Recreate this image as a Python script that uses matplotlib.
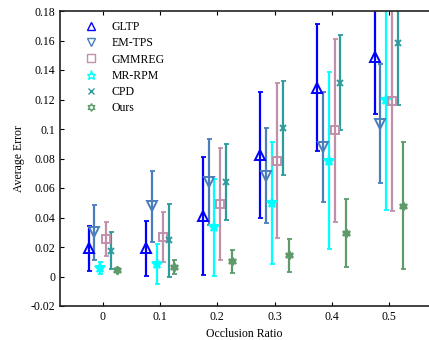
import matplotlib
matplotlib.use("Agg")
import matplotlib.pyplot as plt
from matplotlib.lines import Line2D
import numpy as np

plt.rcParams['font.family'] = ['Liberation Serif', 'DejaVu Serif']
plt.rcParams['mathtext.fontset'] = 'stix'

ratios = [0, 0.1, 0.2, 0.3, 0.4, 0.5]
tick_labels = ['0', '0.1', '0.2', '0.3', '0.4', '0.5']

gltp_mean = [0.019, 0.019, 0.041, 0.0825, 0.128, 0.149]
gltp_err = [0.0155, 0.0187, 0.040, 0.0425, 0.043, 0.039]
emtps_mean = [0.030, 0.0475, 0.064, 0.0684, 0.0878, 0.1035]
emtps_err = [0.0187, 0.024, 0.029, 0.032, 0.0374, 0.0403]
gmmreg_mean = [0.0255, 0.0268, 0.049, 0.0785, 0.099, 0.119]
gmmreg_err = [0.0115, 0.017, 0.038, 0.0525, 0.062, 0.0745]
mrrpm_mean = [0.0058, 0.0085, 0.0333, 0.0499, 0.0784, 0.1198]
mrrpm_err = [0.004, 0.0135, 0.033, 0.0414, 0.060, 0.075]
cpd_mean = [0.0175, 0.0245, 0.064, 0.1005, 0.1315, 0.1585]
cpd_err = [0.0125, 0.0245, 0.026, 0.032, 0.0325, 0.0423]
ours_mean = [0.0044, 0.0065, 0.0103, 0.0143, 0.0296, 0.048]
ours_err = [0.0015, 0.005, 0.0077, 0.0112, 0.0229, 0.0432]

hexagram = (6, 1, 0)
# name, mean, err, offset, color, marker, filled
series = [
    ('GLTP', gltp_mean, gltp_err, -0.025, '#0000FF', '^', False),
    ('EM-TPS', emtps_mean, emtps_err, -0.015, '#4A7EBB', 'v', False),
    ('MR-RPM', mrrpm_mean, mrrpm_err, -0.005, '#00FFFF', '*', True),
    ('GMMREG', gmmreg_mean, gmmreg_err, 0.005, '#C090AA', 's', False),
    ('CPD', cpd_mean, cpd_err, 0.015, '#2E9C9C', 'x', False),
    ('Ours', ours_mean, ours_err, 0.025, '#5E9A6A', hexagram, True),
]
legend_order = ['GLTP', 'EM-TPS', 'GMMREG', 'MR-RPM', 'CPD', 'Ours']
sizes = {'^': 6.5, 'v': 6.5, 's': 5.5, '*': 7, 'x': 4, hexagram: 6}

fig = plt.figure(figsize=(4.29, 3.40), dpi=100)
ax = fig.add_axes([60/429, 34/340, 369/429, 295/340])

handles = {}
for name, mean, err, off, color, marker, filled in series:
    x = np.array(ratios) + off
    ms = sizes[marker]
    ax.errorbar(x, mean, yerr=err, fmt='none', ecolor=color, elinewidth=1.6,
                capsize=1.8, capthick=1.3, zorder=2)
    ax.plot(x, mean, linestyle='none', marker=marker, markersize=ms,
            markeredgecolor=color, markerfacecolor=(color if filled else 'none'),
            markeredgewidth=1.4, zorder=3)
    handles[name] = Line2D([], [], linestyle='none', marker=marker,
                           markersize=ms * 0.95, markeredgecolor=color,
                           markerfacecolor='none', markeredgewidth=1.0)

ax.set_xlim(-0.075, 0.57)
ax.set_ylim(-0.02, 0.18)
ax.set_xticks(ratios)
ax.set_xticklabels(tick_labels)
yt = np.round(np.arange(-0.02, 0.181, 0.02), 2)
ax.set_yticks(yt)
ax.set_yticklabels(['%g' % v for v in yt])
ax.tick_params(direction='in', labelsize=8.5, top=True, right=False, length=3,
               width=0.8, colors='black')
for s in ['left', 'bottom', 'top']:
    ax.spines[s].set_linewidth(1.2)
    ax.spines[s].set_color('#222222')
ax.spines['right'].set_visible(False)

ax.set_xlabel('Occlusion Ratio', fontsize=8.5, labelpad=4)
ax.set_ylabel('Average Error', fontsize=8.5, labelpad=4)

leg = ax.legend([handles[n] for n in legend_order], legend_order,
                loc='upper left', bbox_to_anchor=(0.04, 1.0), frameon=False,
                fontsize=8.5, handlelength=1.0, handletextpad=1.3,
                labelspacing=0.36, borderaxespad=0.45)

fig.savefig('out.png', dpi=100)
